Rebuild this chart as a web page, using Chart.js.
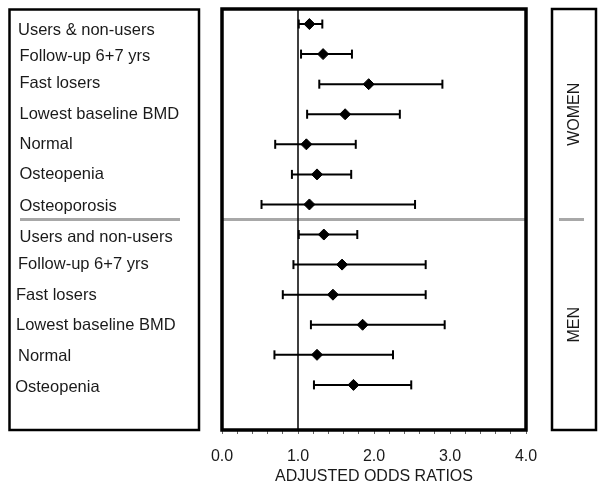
<!DOCTYPE html>
<html><head><meta charset="utf-8">
<script src="https://cdn.jsdelivr.net/npm/chart.js@4/dist/chart.umd.min.js"></script>
<style>html,body{margin:0;padding:0;background:#fff}canvas{display:block}</style>
</head><body>
<canvas id="c" width="604" height="488"></canvas>
<script>
// ---- data ----
const categories = ["Users & non-users","Follow-up 6+7 yrs","Fast losers","Lowest baseline BMD","Normal","Osteopenia","Osteoporosis",
                    "Users and non-users","Follow-up 6+7 yrs","Fast losers","Lowest baseline BMD","Normal","Osteopenia"];
const groups = ["WOMEN","MEN"];
const groupSizes = [7, 6];
const oddsRatio = [1.15,1.33,1.93,1.62,1.11,1.25,1.15, 1.34,1.58,1.46,1.85,1.25,1.73];
const ciLower   = [1.01,1.04,1.28,1.12,0.70,0.92,0.52, 1.01,0.94,0.80,1.17,0.69,1.21];
const ciUpper   = [1.32,1.71,2.90,2.34,1.76,1.70,2.54, 1.78,2.68,2.68,2.93,2.25,2.49];
const xTickLabels = ["0.0","1.0","2.0","3.0","4.0"];
const referenceOR = 1.0;
const xTitle = "ADJUSTED ODDS RATIOS";

// ---- style (positions / nudges, not data) ----
const FONT = "'Liberation Sans', Arial, sans-serif";
const TXT = '#1a1a1a';
const GRAY = '#a8a8a8';
const labelNudgeY = [6.5,2.5,-0.5,0,0,0.5,1.5, 3,-0.5,1,0.5,2,3];
const labelX = [18,19.5,19.5,19.5,19.5,19.5,19.5, 19.5,18,16,16,18,15.2];

const nRows = categories.length + 1;
const sepY = groupSizes[0] - 0.5;

const diamonds = oddsRatio.map((v,i)=>({x:v, y:i}));
const ciData = [];
categories.forEach((c,i)=>{
  ciData.push({x:ciLower[i], y:i});
  ciData.push({x:ciUpper[i], y:i});
  ciData.push({x:ciUpper[i], y:null});
});

const decor = {
  id:'decor',
  afterDraw(chart){
    const ctx = chart.ctx, ca = chart.chartArea, ys = chart.scales.y;
    ctx.save();
    // plot border
    ctx.strokeStyle = '#000'; ctx.lineWidth = 3.5;
    ctx.strokeRect(ca.left, ca.top, ca.right-ca.left, ca.bottom-ca.top);
    // left box
    ctx.lineWidth = 2.5;
    ctx.strokeRect(9.5, 9.5, 189.5, 420.5);
    // right box
    ctx.strokeRect(552, 9, 44, 421);
    // separators in side boxes
    const sy = ys.getPixelForValue(sepY);
    ctx.strokeStyle = GRAY; ctx.lineWidth = 3;
    ctx.beginPath(); ctx.moveTo(20, sy); ctx.lineTo(180, sy); ctx.stroke();
    ctx.beginPath(); ctx.moveTo(559, sy); ctx.lineTo(584, sy); ctx.stroke();
    // labels
    ctx.fillStyle = TXT; ctx.font = '16.5px ' + FONT;
    ctx.textAlign = 'left'; ctx.textBaseline = 'middle';
    categories.forEach((c,i)=>{
      ctx.fillText(c, labelX[i], ys.getPixelForValue(i) + labelNudgeY[i]);
    });
    // group labels
    ctx.font = '16px ' + FONT; ctx.textAlign = 'center';
    const halves = [[9, sy],[sy, 430]];
    groups.forEach((g,k)=>{
      ctx.save();
      ctx.translate(575, (halves[k][0]+halves[k][1])/2);
      ctx.rotate(-Math.PI/2);
      ctx.fillText(g, 0, 0);
      ctx.restore();
    });
    ctx.restore();
  }
};

new Chart(document.getElementById('c'), {
  type:'line',
  data:{ datasets:[
    { label:'OR', data:diamonds, showLine:false, pointStyle:'rectRot', pointRadius:5.5,
      pointBackgroundColor:'#000', pointBorderColor:'#000', pointBorderWidth:1, order:0 },
    { label:'CI', data:ciData, borderColor:'#000', borderWidth:2, spanGaps:false,
      pointStyle:'line', pointRotation:90, pointRadius:4.5, pointBorderWidth:2, pointBorderColor:'#000', order:1 },
    { label:'ref', data:[{x:referenceOR,y:-0.5},{x:referenceOR,y:nRows-0.5}], borderColor:'#000', borderWidth:1.5, pointRadius:0, order:2 },
    { label:'sep', data:[{x:0,y:sepY},{x:4,y:sepY}], borderColor:GRAY, borderWidth:3.2, pointRadius:0, order:3 }
  ]},
  options:{
    responsive:false, animation:false, devicePixelRatio:1,
    layout:{ padding:{ left:222, right:78, top:9, bottom:0 } },
    plugins:{ legend:{display:false}, tooltip:{enabled:false} },
    scales:{
      x:{ type:'linear', min:0, max:4,
        afterBuildTicks:s=>{ const t=[]; for(let k=0;k<=20;k++) t.push({value:k/5}); s.ticks=t; },
        ticks:{ autoSkip:false, maxRotation:0, padding:13, color:TXT, font:{family:FONT, size:16},
          callback:(v)=>{ const k=Math.round(v*5); return k%5===0 ? xTickLabels[k/5] : ''; } },
        grid:{ drawOnChartArea:false, drawTicks:true, tickLength:4, color:'#666', lineWidth:1 },
        border:{ display:false },
        title:{ display:true, text:xTitle, color:TXT, font:{family:FONT, size:16}, padding:{top:0,bottom:2} },
        afterFit:s=>{ s.height = 58; }
      },
      y:{ type:'linear', min:-0.5, max:nRows-0.5, reverse:true, display:false }
    }
  },
  plugins:[decor]
});
</script>
</body></html>
